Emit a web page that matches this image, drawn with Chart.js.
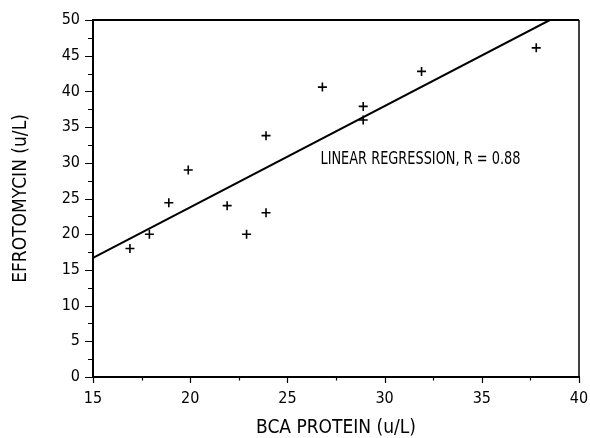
<!DOCTYPE html>
<html><head><meta charset="utf-8">
<script src="https://cdn.jsdelivr.net/npm/chart.js@4"></script>
<style>html,body{margin:0;padding:0;background:#fff}</style>
</head><body>
<canvas id="c" width="590" height="438" style="width:590px;height:438px;display:block"></canvas>
<script>
// ---- data ----
const bcaProtein  = [16.9, 17.9, 18.9, 19.9, 21.9, 22.9, 23.9, 23.9, 26.8, 28.9, 28.9, 31.9, 37.8];
const efrotomycin = [18.0, 20.0, 24.4, 29.0, 24.0, 20.0, 33.8, 23.0, 40.6, 37.9, 36.0, 42.8, 46.1];
const regressionX = [15, 38.5];
const regressionY = [16.7, 50];
const xTicks = [15, 20, 25, 30, 35, 40];
const xMinorTicks = [17.5, 22.5, 27.5, 32.5, 37.5];
const yTicks = [0, 5, 10, 15, 20, 25, 30, 35, 40, 45, 50];
const yMinorTicks = [2.5, 7.5, 12.5, 17.5, 22.5, 27.5, 32.5, 37.5, 42.5, 47.5];
const xTitle = 'BCA PROTEIN (u/L)';
const yTitle = 'EFROTOMYCIN (u/L)';
const annotationText = 'LINEAR REGRESSION, R = 0.88';
const annotationAt = [26.7, 30.5];

const FONT = "'DejaVu Sans Condensed', 'Liberation Sans Narrow', sans-serif";

const framePlugin = {
  id: 'frame',
  afterDraw(chart) {
    const ctx = chart.ctx, a = chart.chartArea;
    const xs = chart.scales.x, ys = chart.scales.y;
    ctx.save();
    ctx.strokeStyle = '#000';
    // top and right frame
    ctx.lineWidth = 2;
    ctx.beginPath(); ctx.moveTo(a.left, a.top); ctx.lineTo(a.right, a.top); ctx.stroke();
    ctx.lineWidth = 1.5;
    ctx.beginPath(); ctx.moveTo(a.right, a.top); ctx.lineTo(a.right, a.bottom); ctx.stroke();
    // tick marks
    ctx.lineWidth = 1.2;
    ctx.beginPath();
    xTicks.forEach(v => { const p = Math.round(xs.getPixelForValue(v)) + 0.5; ctx.moveTo(p, a.bottom); ctx.lineTo(p, a.bottom + 6); });
    xMinorTicks.forEach(v => { const p = Math.round(xs.getPixelForValue(v)) + 0.5; ctx.moveTo(p, a.bottom); ctx.lineTo(p, a.bottom + 3.5); });
    yTicks.forEach(v => { const p = Math.round(ys.getPixelForValue(v)) + 0.5; ctx.moveTo(a.left, p); ctx.lineTo(a.left - 8, p); });
    yMinorTicks.forEach(v => { const p = Math.round(ys.getPixelForValue(v)) + 0.5; ctx.moveTo(a.left, p); ctx.lineTo(a.left - 5, p); });
    ctx.stroke();
    // annotation (narrow, tall lettering as in the reference)
    ctx.fillStyle = '#000';
    ctx.font = '18px ' + FONT;
    ctx.textAlign = 'left';
    ctx.textBaseline = 'middle';
    const px = xs.getPixelForValue(annotationAt[0]), py = ys.getPixelForValue(annotationAt[1]);
    const w = ctx.measureText(annotationText).width;
    const sx = 200 / w;
    ctx.translate(px, py);
    ctx.scale(sx, 1);
    ctx.fillText(annotationText, 0, 0);
    ctx.restore();
  }
};

new Chart(document.getElementById('c'), {
  type: 'scatter',
  data: {
    datasets: [
      {
        label: 'data',
        data: bcaProtein.map((x, i) => ({ x, y: efrotomycin[i] })),
        pointStyle: 'cross',
        pointRadius: 4.5,
        pointBorderWidth: 1.6,
        borderColor: '#000',
        backgroundColor: '#000',
        showLine: false
      },
      {
        label: 'regression',
        data: regressionX.map((x, i) => ({ x, y: regressionY[i] })),
        showLine: true,
        borderColor: '#000',
        borderWidth: 2,
        pointRadius: 0,
        fill: false
      }
    ]
  },
  options: {
    responsive: false,
    devicePixelRatio: 1,
    animation: false,
    layout: { padding: { top: 20, right: 11, left: 0, bottom: 0 } },
    plugins: { legend: { display: false }, tooltip: { enabled: false } },
    scales: {
      x: {
        type: 'linear', min: 15, max: 40,
        afterBuildTicks: s => { s.ticks = xTicks.map(v => ({ value: v })); },
        afterFit: s => { s.height = 61; s.paddingLeft = 0; s.paddingRight = 0; },
        grid: { display: false, drawTicks: false },
        border: { display: true, color: '#000', width: 2 },
        ticks: { color: '#000', font: { family: FONT, size: 16 }, padding: 12, maxRotation: 0, autoSkip: false },
        title: { display: true, text: xTitle, color: '#000', font: { family: FONT, size: 19, lineHeight: 1 }, padding: 0 }
      },
      y: {
        type: 'linear', min: 0, max: 50,
        afterBuildTicks: s => { s.ticks = yTicks.map(v => ({ value: v })); },
        afterFit: s => { s.width = 93; s.paddingTop = 0; s.paddingBottom = 0; },
        grid: { display: false, drawTicks: false },
        border: { display: true, color: '#000', width: 2 },
        ticks: { color: '#000', font: { family: FONT, size: 16 }, padding: 13, autoSkip: false },
        title: { display: true, text: yTitle, color: '#000', font: { family: FONT, size: 19, lineHeight: 1 }, padding: { top: 12, bottom: 0 } }
      }
    }
  },
  plugins: [framePlugin]
});
</script>
</body></html>
